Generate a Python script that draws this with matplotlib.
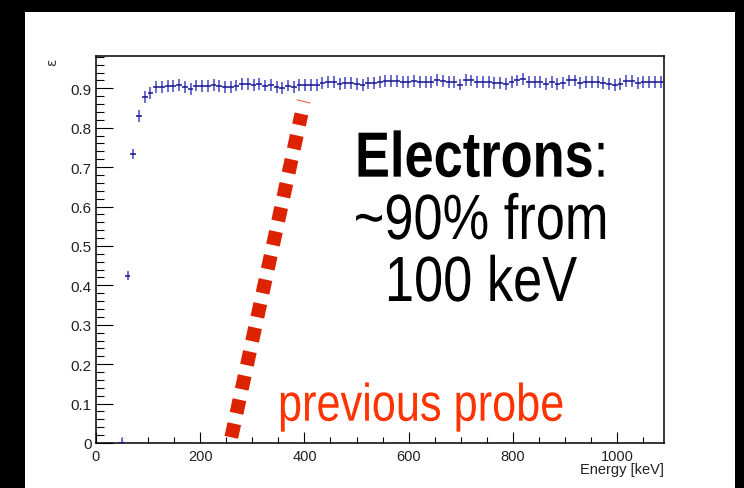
import matplotlib
matplotlib.use("Agg")
import matplotlib.pyplot as plt
import numpy as np
from matplotlib.patches import Rectangle
from matplotlib.ticker import MultipleLocator
from matplotlib import patheffects
from matplotlib.transforms import Affine2D

# ---------------- data ----------------
bin_width = 11.0
energy = [5.5 + bin_width * k for k in range(4, 99)]  # bin centres (keV)

efficiency = [
    0.000, 0.425, 0.733, 0.830, 0.877, 0.888, 0.903, 0.903, 0.905, 0.906,
    0.909, 0.903, 0.899, 0.907, 0.906, 0.906, 0.909, 0.906, 0.904, 0.904,
    0.907, 0.910, 0.911, 0.908, 0.910, 0.907, 0.909, 0.904, 0.901, 0.907,
    0.903, 0.909, 0.909, 0.909, 0.909, 0.913, 0.915, 0.915, 0.911, 0.914,
    0.914, 0.911, 0.909, 0.913, 0.913, 0.915, 0.918, 0.918, 0.918, 0.915,
    0.917, 0.919, 0.917, 0.915, 0.915, 0.921, 0.918, 0.9155, 0.9155, 0.9095,
    0.922, 0.920, 0.9155, 0.9155, 0.9155, 0.914, 0.914, 0.911, 0.9155, 0.920,
    0.924, 0.9155, 0.9155, 0.9155, 0.911, 0.9155, 0.911, 0.913, 0.920, 0.920,
    0.914, 0.9155, 0.9155, 0.9155, 0.913, 0.911, 0.909, 0.911, 0.918, 0.918,
    0.914, 0.9155, 0.9155, 0.9155, 0.915,
]
err_low = [0.0, 0.011, 0.013] + [0.015] * 92
err_high = [0.012, 0.011, 0.013] + [0.015] * 92

prev_probe_x = [257.3, 394.2]
prev_probe_y = [0.0, 0.835]
prev_cap_x = [386.2, 410.5]
prev_cap_y = [0.8706, 0.863]

x_ticks = [0, 200, 400, 600, 800, 1000]
y_ticks = [0, 0.1, 0.2, 0.3, 0.4, 0.5, 0.6, 0.7, 0.8, 0.9]
y_ticklabels = ["0", "0.1", "0.2", "0.3", "0.4", "0.5", "0.6", "0.7", "0.8", "0.9"]

# ---------------- figure ----------------
W, H = 744, 489
plt.rcParams["lines.scale_dashes"] = False
plt.rcParams["mathtext.fontset"] = "custom"
plt.rcParams["mathtext.rm"] = "Liberation Sans"
plt.rcParams["mathtext.bf"] = "Liberation Sans:bold"
fig = plt.figure(figsize=(W / 100, H / 100), dpi=100, facecolor="black")


def fx(px):
    return px / W


def fy(py):
    return 1 - py / H


class Squeeze(patheffects.AbstractPathEffect):
    """Horizontally condense glyph outlines about a pixel x position."""

    def __init__(self, sx, x0):
        super().__init__()
        self.sx = sx
        self.x0 = x0

    def draw_path(self, renderer, gc, tpath, affine, rgbFace=None):
        a = affine + Affine2D().translate(-self.x0, 0).scale(self.sx, 1).translate(self.x0, 0)
        renderer.draw_path(gc, tpath, a, rgbFace)


fig.patches.append(Rectangle((fx(25), 0), fx(735) - fx(25), fy(13), transform=fig.transFigure,
                             facecolor="white", edgecolor="none", zorder=-10))

ax = fig.add_axes([fx(96), fy(444), fx(664) - fx(96), fy(57) - fy(444)])
ax.set_facecolor("white")
ax.set_xlim(0, 1090)
ax.set_ylim(0, 0.982)

for s in ["top", "right", "left", "bottom"]:
    ax.spines[s].set_linewidth(1.1)
    ax.spines[s].set_color("black")

ax.set_xticks(x_ticks)
ax.set_xticklabels([str(t) for t in x_ticks])
ax.set_yticks(y_ticks)
ax.set_yticklabels(y_ticklabels)
ax.xaxis.set_minor_locator(MultipleLocator(50))
ax.yaxis.set_minor_locator(MultipleLocator(0.02))
ax.tick_params(axis="y", which="major", direction="in", length=12.2, width=0.8, pad=3,
               labelsize=11, right=False)
ax.tick_params(axis="y", which="minor", direction="in", length=6, width=0.8, right=False)
ax.tick_params(axis="x", which="major", direction="in", length=7.9, width=0.8, pad=4,
               labelsize=10.5, top=False)
ax.tick_params(axis="x", which="minor", direction="in", length=4, width=0.8, top=False)
for lab in ax.get_xticklabels() + ax.get_yticklabels():
    lab.set_family("Liberation Sans")
    lab.set_color("#222222")

# data: vertical error bars then horizontal bin-width bars
ax.errorbar(energy, efficiency, yerr=[err_low, err_high], fmt="none",
            ecolor="#6a6ad2", elinewidth=1.4, capsize=0, zorder=3)
ax.errorbar(energy, efficiency, xerr=bin_width / 2, fmt="none",
            ecolor="#14148a", elinewidth=1.1, capsize=0, zorder=4)

# previous probe curve (thick red dashed)
ax.plot(prev_probe_x, prev_probe_y, color="#dd2200", linewidth=10.0,
        linestyle=(13.5, (10.0, 7.7)), solid_capstyle="butt", dash_capstyle="butt", zorder=2)
ax.plot(prev_cap_x, prev_cap_y, color="#f06040", linewidth=0.8, zorder=2)

# axis titles
fig.text(fx(664), fy(470), "Energy [keV]", ha="right", va="center",
         fontsize=10.5, family="Liberation Sans", color="#222222")
fig.text(fx(52), fy(62), "ε", ha="center", va="center", rotation=90,
         fontsize=10, family="DejaVu Sans", color="#333333")

# annotations (Helvetica-Narrow look: Liberation Sans condensed horizontally)
big = ["Liberation Sans", "DejaVu Sans"]
SX = 0.82
fig.text(fx(355), fy(178), r"$\mathbf{Electrons}$:", ha="left", va="baseline",
         fontsize=46, family=big, color="black", path_effects=[Squeeze(SX, 355)])
fig.text(fx(481), fy(240), "~90% from", ha="center", va="baseline",
         fontsize=46, family=big, color="black", path_effects=[Squeeze(SX, 481)])
fig.text(fx(481), fy(302), "100 keV", ha="center", va="baseline",
         fontsize=46, family=big, color="black", path_effects=[Squeeze(SX, 481)])
fig.text(fx(278), fy(421.7), "previous probe", ha="left", va="baseline",
         fontsize=38, family=big, color="#ff3300", path_effects=[Squeeze(SX, 278)])

fig.savefig("out.png", dpi=100, facecolor="black")
